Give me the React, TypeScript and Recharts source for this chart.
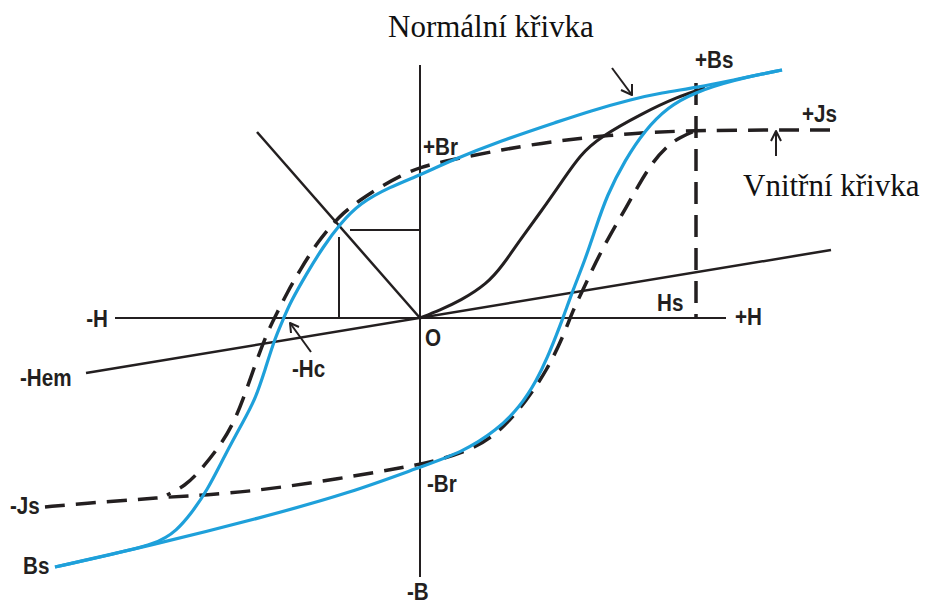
import React from "react";
import { ComposedChart, Line, Scatter, XAxis, YAxis } from "recharts";

// H (field) and B (induction) in arbitrary units, origin O at 0,0
const NORMAL_DOWN = [
  [362, 248], [313, 238], [280, 231], [240, 225], [213, 219], [170, 207],
  [140, 197], [80, 177], [30, 157], [0, 143], [-30, 131], [-60, 115],
  [-80, 94], [-97, 71], [-113, 45], [-130, 15], [-137, -2], [-145, -20],
  [-155, -52], [-165, -82], [-177, -104], [-195, -137], [-213, -173],
  [-230, -197], [-243, -212], [-262, -226], [-320, -239], [-365, -249],
];
const NORMAL_UP = [
  [-365, -249], [-267, -227], [-160, -200], [-70, -175], [0, -149],
  [43, -134], [77, -112], [100, -89], [117, -62], [128, -38], [136, -18],
  [143, 0], [153, 28], [165, 58], [175, 88], [187, 123], [205, 158],
  [225, 188], [248, 211], [273, 225], [313, 238], [362, 248],
];
const INTRINSIC_DOWN = [
  [410, 188], [280, 188], [213, 185], [140, 178], [80, 168], [30, 158],
  [0, 151], [-20, 142], [-40, 131], [-60, 118], [-77, 105], [-90, 91],
  [-103, 75], [-120, 48], [-133, 25], [-143, 5], [-153, -15], [-165, -47],
  [-177, -82], [-187, -106], [-200, -128], [-220, -153], [-235, -168],
  [-253, -177],
];
const INTRINSIC_UP = [
  [-375, -189], [-333, -185], [-287, -182], [-253, -179], [-213, -177],
  [-167, -173], [-100, -164], [-20, -150], [7, -145], [50, -133],
  [80, -114], [107, -82], [127, -52], [143, -19], [153, 8], [163, 28],
  [172, 48], [182, 68], [194, 90], [206, 110], [218, 132], [232, 155],
  [246, 171], [260, 181], [275, 187],
];
const INITIAL = [
  [0, 0], [20, 8], [40, 17], [67, 34], [83, 53], [100, 78], [120, 105],
  [143, 138], [160, 163], [180, 181], [223, 205], [257, 221], [285, 230],
];
const H_AXIS = [[-305, 0], [306, 0]];
const B_AXIS = [[0, 253], [0, -259]];
const LOAD_LINE = [[-163, 186], [0, 0]];
const HEM_LINE = [[-334, -55], [411, 68]];
const BR_GUIDE = [[-70, 88], [0, 88]];
const HD_GUIDE = [[-81, 81], [-81, 0]];
const HS_GUIDE = [[276, 235], [276, 0]];

const ARROWS = [
  { shaft: [[192, 250], [212, 223]], head: [[201, 228], [212, 223], [212, 234]] },
  { shaft: [[356, 162], [356, 187]], head: [[351, 177], [356, 187], [361, 177]] },
  { shaft: [[-109, -34], [-130, -5]], head: [[-121, -9], [-130, -5], [-129, -15]] },
];

const SYMBOLS = [
  { h: -312, b: -9, text: "-H", anchor: "end" },
  { h: 315, b: -7, text: "+H", anchor: "start" },
  { h: 5, b: -28, text: "O", anchor: "start" },
  { h: -400, b: -68, text: "-Hem", anchor: "start" },
  { h: -128, b: -59, text: "-Hc", anchor: "start" },
  { h: 237, b: 7, text: "Hs", anchor: "start" },
  { h: 3, b: 163, text: "+Br", anchor: "start" },
  { h: 7, b: -174, text: "-Br", anchor: "start" },
  { h: -13, b: -282, text: "-B", anchor: "start" },
  { h: 275, b: 250, text: "+Bs", anchor: "start" },
  { h: 382, b: 196, text: "+Js", anchor: "start" },
  { h: -410, b: -196, text: "-Js", anchor: "start" },
  { h: -397, b: -256, text: "Bs", anchor: "start" },
];

const CAPTIONS = [
  { h: -32, b: 281, text: "Normální křivka" },
  { h: 323, b: 122, text: "Vnitřní křivka" },
];

const INK = "#231f20";
const BLUE = "#1ea0da";

const pts = (a: number[][]) => a.map(([h, b]) => ({ h, b }));

const SymbolText = (props: any) => {
  const { cx, cy, payload } = props;
  return (
    <text
      transform={`translate(${cx},${cy}) scale(0.86,1)`}
      textAnchor={payload.anchor}
      fontFamily="'Liberation Sans', Arial, sans-serif"
      fontWeight="bold"
      fontSize={24}
      fill={INK}
    >
      {payload.text}
    </text>
  );
};

const CaptionText = (props: any) => {
  const { cx, cy, payload } = props;
  return (
    <text
      x={cx}
      y={cy}
      fontFamily="'Liberation Serif', 'Times New Roman', serif"
      fontSize={31}
      fill="#111"
    >
      {payload.text}
    </text>
  );
};

export default function App() {
  const line = (key: string, data: number[][], width: number, opts: any = {}) => (
    <Line
      key={key}
      data={pts(data)}
      dataKey="b"
      type={opts.type || "linear"}
      stroke={opts.color || INK}
      strokeWidth={width}
      strokeDasharray={opts.dash}
      strokeLinejoin="round"
      strokeLinecap="butt"
      dot={false}
      activeDot={false}
      isAnimationActive={false}
    />
  );

  return (
    <div style={{ position: "absolute", left: 0, top: 0, background: "#fff" }}>
      <ComposedChart width={928} height={605} margin={{ top: 0, right: 0, bottom: 0, left: 0 }}>
        <XAxis type="number" dataKey="h" domain={[-420, 508]} allowDataOverflow hide />
        <YAxis type="number" domain={[-287, 318]} allowDataOverflow hide />
        {line("haxis", H_AXIS, 2)}
        {line("baxis", B_AXIS, 2)}
        {line("load", LOAD_LINE, 2.5)}
        {line("hem", HEM_LINE, 2.5)}
        {line("br", BR_GUIDE, 2)}
        {line("hd", HD_GUIDE, 2)}
        {line("hs", HS_GUIDE, 3.5, { dash: "22 11" })}
        {line("idown", INTRINSIC_DOWN, 3.5, { type: "basis", dash: "20 11" })}
        {line("iup", INTRINSIC_UP, 3.5, { type: "basis", dash: "20 11" })}
        {line("init", INITIAL, 3, { type: "basis" })}
        {line("ndown", NORMAL_DOWN, 3.2, { type: "basis", color: BLUE })}
        {line("nup", NORMAL_UP, 3.2, { type: "basis", color: BLUE })}
        {ARROWS.map((a, i) => [line(`as${i}`, a.shaft, 2), line(`ah${i}`, a.head, 2)])}
        <Scatter data={SYMBOLS} dataKey="b" shape={SymbolText} isAnimationActive={false} />
        <Scatter data={CAPTIONS} dataKey="b" shape={CaptionText} isAnimationActive={false} />
      </ComposedChart>
    </div>
  );
}
